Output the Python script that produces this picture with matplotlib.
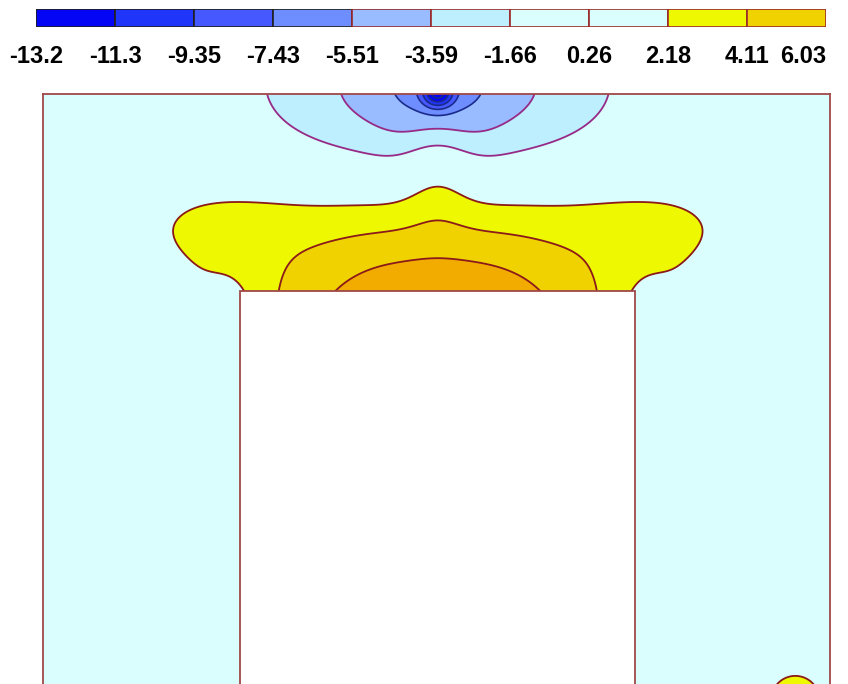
import numpy as np
import matplotlib
matplotlib.use('Agg')
import matplotlib.pyplot as plt
from matplotlib.patches import Rectangle

# ---- colour scale ----
levels = [-13.2, -11.3, -9.35, -7.43, -5.51, -3.59, -1.66, 0.26, 2.18, 4.11, 6.03]
level_labels = ["-13.2", "-11.3", "-9.35", "-7.43", "-5.51", "-3.59", "-1.66", "0.26", "2.18", "4.11", "6.03"]
band_colors = ['#0505F5', '#2035FA', '#4658FF', '#6E8EFF', '#98BCFF', '#BEEFFF',
               '#DAFDFD', '#DAFDFD', '#EEF800', '#F0D200']
over_color = '#F2AC00'

# ---- domain (x 0..787, y 0..600) and the blank block ----
domain_x = [0, 787]
domain_y = [0, 600]
block_x = [197, 592]
block_top = 403

# ---- field sources (Gaussian bumps) ----
source_x   = [394.5, 167.7, 621.3, 193.7, 595.3, 334.6, 454.4, 394.5, 394.5, 394.5, 752.0]
source_y   = [357.0, 471.3, 471.3, 320.7, 320.7, 600.0, 600.0, 601.1, 686.9, 531.6, -6.0]
source_amp = [8.579, 1.568, 1.568, -3.779, -3.779, -3.292, -3.292, -7.805, -3.424, 2.812, 3.5]
source_sx  = [206.6, 88.9, 88.9, 32.2, 32.2, 137.2, 137.2, 14.91, 45.49, 35.65, 35.0]
source_sy  = [143.9, 43.87, 43.87, 76.7, 76.7, 93.96, 93.96, 13.79, 166.5, 63.14, 35.0]

xs = np.arange(domain_x[0], domain_x[1] + 1, 1.0)
ys = np.arange(domain_y[0], domain_y[1] + 1, 1.0)
XX, YY = np.meshgrid(xs, ys)
Z = np.zeros_like(XX)
for x0, y0, a, sx, sy in zip(source_x, source_y, source_amp, source_sx, source_sy):
    Z += a * np.exp(-((XX - x0) / sx) ** 2 - ((YY - y0) / sy) ** 2)

fig = plt.figure(figsize=(8.48, 6.84), dpi=100)
ax = fig.add_axes([43.3 / 848, (684 - 694) / 684, 787 / 848, 600 / 684])
cf = ax.contourf(XX, YY, Z, levels=levels, colors=band_colors, extend='both')
cf.cmap.set_over(over_color)
cf.cmap.set_under(band_colors[0])
ax.contour(XX, YY, Z, levels=[2.18, 4.11, 6.03], colors='#8B1A1A', linewidths=1.3)
ax.contour(XX, YY, Z, levels=[-3.59, -1.66], colors='#962A86', linewidths=1.3, linestyles='solid')
ax.contour(XX, YY, Z, levels=[-13.2, -11.3, -9.35, -7.43, -5.51], colors='#1A2A8A',
           linewidths=1.2, linestyles='solid')
ax.add_patch(Rectangle((block_x[0], -20), block_x[1] - block_x[0], block_top + 20,
                       facecolor='white', edgecolor='#A04848', lw=1.3, zorder=5))
ax.set_xlim(*domain_x)
ax.set_ylim(*domain_y)
ax.set_xticks([])
ax.set_yticks([])
for s in ax.spines.values():
    s.set_color('#A04848')
    s.set_linewidth(1.3)

# ---- colour bar ----
cax = fig.add_axes([36 / 848, 1 - 26.7 / 684, 790 / 848, 17.7 / 684])
edgecols = ['#202020'] * 4 + ['#9A2A2A'] * 6
cax.bar(np.arange(len(band_colors)) + 0.5, 1, width=1, color=band_colors,
        edgecolor=edgecols, linewidth=1.2)
cax.set_xlim(0, len(band_colors))
cax.set_ylim(0, 1)
cax.set_yticks([])
cax.set_xticks(np.arange(len(levels)))
cax.set_xticklabels(level_labels, fontsize=17, fontweight='bold', family='Liberation Sans')
cax.tick_params(axis='x', length=0, pad=13)
cax.get_xticklabels()[-1].set_horizontalalignment('right')
for s in cax.spines.values():
    s.set_visible(False)

fig.savefig('out.png', dpi=100)
